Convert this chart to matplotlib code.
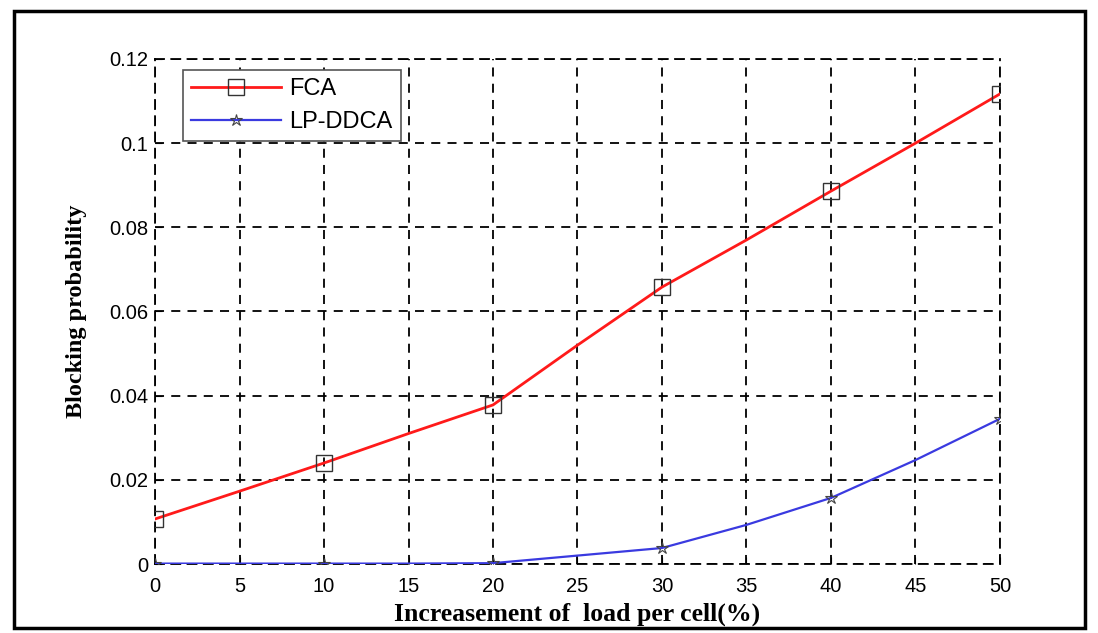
import matplotlib.pyplot as plt
from matplotlib.patches import Rectangle

load = [0, 5, 10, 15, 20, 25, 30, 35, 40, 45, 50]
fca = [0.0107, 0.0173, 0.024, 0.031, 0.0378, 0.052, 0.0658, 0.077, 0.0886, 0.1, 0.1117]
lp_ddca = [0.0001, 0.0001, 0.0001, 0.0001, 0.0002, 0.002, 0.0038, 0.0093, 0.0157, 0.0247, 0.0345]
x_ticks = [0, 5, 10, 15, 20, 25, 30, 35, 40, 45, 50]
y_ticks = [0, 0.02, 0.04, 0.06, 0.08, 0.1, 0.12]
y_labels = ["0", "0.02", "0.04", "0.06", "0.08", "0.1", "0.12"]

fig = plt.figure(figsize=(10.98, 6.33), dpi=100)
ax = fig.add_axes([0.1412, 0.109, 0.7695, 0.7978])

# markers only at every 10 %
ax.plot(load, fca, color="#ff1a1a", linewidth=2, marker="s", markersize=11,
        markerfacecolor="none", markeredgecolor="#333333", markeredgewidth=1,
        markevery=2, label="FCA", zorder=3)
ax.plot(load, lp_ddca, color="#3a3ae0", linewidth=1.6, marker="*", markersize=9,
        markerfacecolor="none", markeredgecolor="#444444", markeredgewidth=0.8,
        markevery=2, label="LP-DDCA", zorder=3)

ax.set_xlim(0, 50)
ax.set_ylim(0, 0.12)
ax.set_xticks(x_ticks)
ax.set_yticks(y_ticks)
ax.set_yticklabels(y_labels)
ax.tick_params(direction="in", labelsize=14.5, length=5)
ax.tick_params(axis="x", pad=9)
ax.tick_params(axis="y", pad=5)
for lbl in ax.get_xticklabels() + ax.get_yticklabels():
    lbl.set_family("Liberation Sans")

ax.grid(True, color="black", linestyle=(0, (5, 4)), linewidth=1.3)
for s in ax.spines.values():
    s.set_linestyle((0, (5, 4)))
    s.set_linewidth(1.3)

ax.set_xlabel("Increasement of  load per cell(%)", fontsize=18.5, fontweight="bold",
              family="Liberation Serif", labelpad=5)
ax.set_ylabel("Blocking probability", fontsize=17.5, fontweight="bold",
              family="Liberation Serif", labelpad=16)

leg = ax.legend(loc="upper left", bbox_to_anchor=(0.033, 0.978), borderaxespad=0,
                fancybox=False, edgecolor="#555555", framealpha=1,
                prop={"family": "Liberation Sans", "size": 17},
                handlelength=3.8, handletextpad=0.35, borderpad=0.35, labelspacing=0.45)
leg.get_frame().set_linewidth(1.2)

# scanned page frame
fig.patches.append(Rectangle((0.0128, 0.008), 0.975, 0.9746, transform=fig.transFigure,
                             fill=False, edgecolor="black", linewidth=2.5))

fig.savefig("out.png", dpi=100)
